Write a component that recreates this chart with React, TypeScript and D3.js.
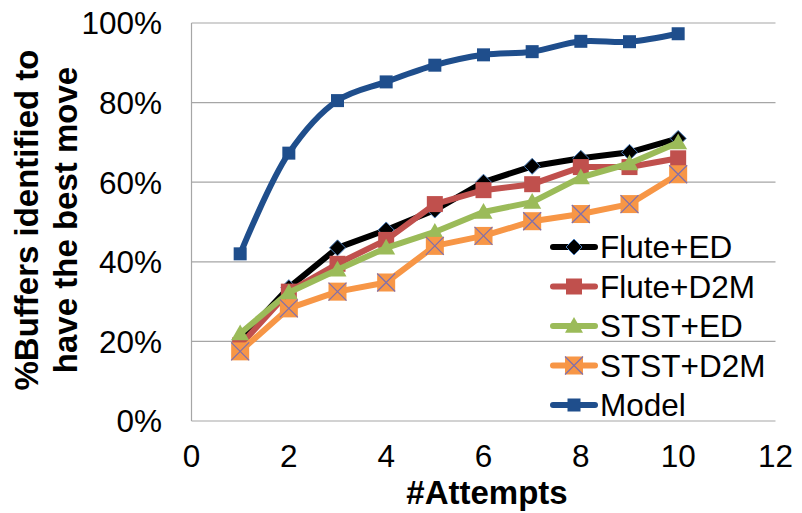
import React from "react";
import * as d3 from "d3";

// #Attempts on the x axis
const attempts = [1, 2, 3, 4, 5, 6, 7, 8, 9, 10];

// % of buffers identified to have the best move
const fluteED = [20.5, 33.5, 43.5, 48, 53, 60, 64, 66, 67.5, 71];
const fluteD2M = [19, 32.5, 39.5, 45.5, 54.5, 58, 59.5, 63.8, 63.8, 66];
const ststED = [22, 32.3, 38, 43.5, 47.5, 52.5, 55, 61.2, 64.7, 70];
const ststD2M = [17.5, 28.3, 32.5, 34.8, 44, 46.5, 50.2, 52, 54.5, 62];
const model = [42, 67.3, 80.5, 85.2, 89.4, 92, 92.8, 95.4, 95.3, 97.3];

const seriesNames = ["Flute+ED", "Flute+D2M", "STST+ED", "STST+D2M", "Model"];

const xTicks = [0, 2, 4, 6, 8, 10, 12];
const yTicks = [0, 0.2, 0.4, 0.6, 0.8, 1.0];

const W = 802;
const H = 513;

const series = [
  { name: seriesNames[0], values: fluteED, color: "#000000", marker: "diamond" },
  { name: seriesNames[1], values: fluteD2M, color: "#C0504D", marker: "square" },
  { name: seriesNames[2], values: ststED, color: "#9BBB59", marker: "triangle" },
  { name: seriesNames[3], values: ststD2M, color: "#F79646", marker: "xsquare" },
  { name: seriesNames[4], values: model, color: "#1F4E8C", marker: "smallsquare" },
];

const font = "Arial, 'Liberation Sans', sans-serif";

function Marker({ type, cx, cy }: { type: string; cx: number; cy: number }) {
  if (type === "diamond") {
    const r = 8;
    return (
      <path
        d={`M${cx},${cy - r}L${cx + r},${cy}L${cx},${cy + r}L${cx - r},${cy}Z`}
        fill="#000"
        stroke="#4F81BD"
        strokeWidth={1}
      />
    );
  }
  if (type === "square") {
    const r = 8;
    return <rect x={cx - r} y={cy - r} width={2 * r} height={2 * r} fill="#C0504D" />;
  }
  if (type === "triangle") {
    const r = 9;
    return (
      <path
        d={`M${cx},${cy - r}L${cx + r},${cy + r * 0.75}L${cx - r},${cy + r * 0.75}Z`}
        fill="#9BBB59"
      />
    );
  }
  if (type === "xsquare") {
    const r = 9;
    return (
      <g>
        <rect x={cx - r} y={cy - r} width={2 * r} height={2 * r} fill="#F79646" />
        <path
          d={`M${cx - r},${cy - r}L${cx + r},${cy + r}M${cx + r},${cy - r}L${cx - r},${cy + r}`}
          stroke="#7E6FAE"
          strokeWidth={1.2}
        />
      </g>
    );
  }
  const r = 6.5;
  return <rect x={cx - r} y={cy - r} width={2 * r} height={2 * r} fill="#1F4E8C" />;
}

export default function App() {
  const x = d3.scaleLinear().domain([0, 12]).range([191.5, 775.5]);
  const y = d3.scaleLinear().domain([0, 1]).range([421, 23]);
  const fmt = d3.format(".0%");

  const straight = d3
    .line<number>()
    .x((_, i) => x(attempts[i]))
    .y((d) => y(d / 100));
  const smooth = d3
    .line<number>()
    .x((_, i) => x(attempts[i]))
    .y((d) => y(d / 100))
    .curve(d3.curveCatmullRom.alpha(0.5));

  const legendX = 553;
  const legendY0 = 247;
  const legendStep = 39.5;

  return (
    <svg
      width={W}
      height={H}
      style={{ position: "absolute", left: 0, top: 0, background: "#fff" }}
      fontFamily={font}
    >
      {/* grid */}
      {yTicks.map((t) => (
        <line
          key={t}
          x1={x(0)}
          x2={x(12)}
          y1={y(t)}
          y2={y(t)}
          stroke="#A6A6A6"
          strokeWidth={1.2}
        />
      ))}
      <line x1={x(0)} x2={x(0)} y1={y(1)} y2={y(0)} stroke="#A6A6A6" strokeWidth={1.2} />

      {/* y tick labels */}
      {yTicks.map((t) => (
        <text
          key={t}
          x={162}
          y={y(t)}
          dy="0.36em"
          textAnchor="end"
          fontSize={31.5}
          fill="#000"
        >
          {fmt(t)}
        </text>
      ))}

      {/* x tick labels */}
      {xTicks.map((t) => (
        <text key={t} x={x(t)} y={467} textAnchor="middle" fontSize={31.5} fill="#000">
          {t}
        </text>
      ))}

      {/* axis titles */}
      <text x={487} y={504} textAnchor="middle" fontSize={33} fontWeight="bold">
        #Attempts
      </text>
      <text
        transform="translate(38,220) rotate(-90)"
        textAnchor="middle"
        fontSize={33}
        fontWeight="bold"
      >
        %Buffers identified to
      </text>
      <text
        transform="translate(77,220) rotate(-90)"
        textAnchor="middle"
        fontSize={33}
        fontWeight="bold"
      >
        have the best move
      </text>

      {/* series */}
      {series.map((s) => (
        <g key={s.name}>
          <path
            d={(s.name === "Model" ? smooth : straight)(s.values) || ""}
            fill="none"
            stroke={s.color}
            strokeWidth={6}
            strokeLinejoin="round"
            strokeLinecap="round"
          />
          {s.values.map((v, i) => (
            <Marker key={i} type={s.marker} cx={x(attempts[i])} cy={y(v / 100)} />
          ))}
        </g>
      ))}

      {/* legend */}
      {series.map((s, i) => {
        const cy = legendY0 + i * legendStep;
        return (
          <g key={s.name}>
            <line
              x1={legendX}
              x2={legendX + 42}
              y1={cy}
              y2={cy}
              stroke={s.color}
              strokeWidth={6}
              strokeLinecap="round"
            />
            <Marker type={s.marker} cx={legendX + 21} cy={cy} />
            <text x={legendX + 47} y={cy} dy="0.36em" fontSize={31.5} fill="#000">
              {s.name}
            </text>
          </g>
        );
      })}
    </svg>
  );
}
